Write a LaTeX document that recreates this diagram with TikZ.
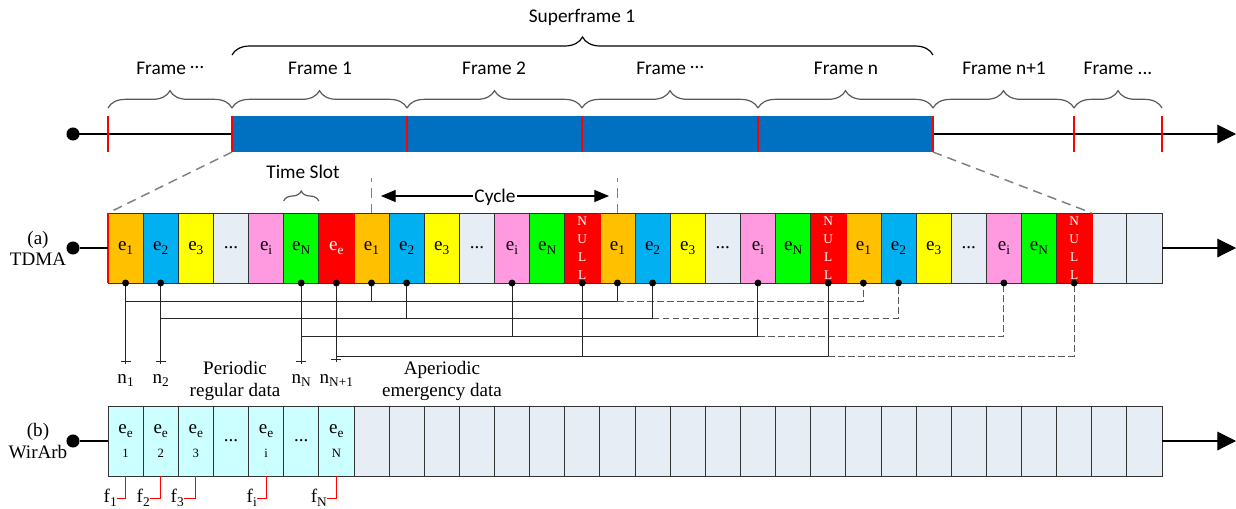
\documentclass[tikz,border=0pt]{standalone}
\usepackage{fontspec}
\setmainfont{Liberation Serif}
\newfontfamily\calfont{Carlito}
\usetikzlibrary{decorations.pathreplacing,arrows.meta,calc}
\definecolor{corange}{HTML}{FFC000}
\definecolor{cblue}{HTML}{00B0F0}
\definecolor{cyellow}{HTML}{FFFF00}
\definecolor{cgray}{HTML}{E7EDF5}
\definecolor{cpink}{HTML}{FF99E0}
\definecolor{cgreen}{HTML}{00FF00}
\definecolor{cred}{HTML}{FF0000}
\definecolor{ccyan}{HTML}{CCFFFF}
\definecolor{barblue}{HTML}{0070C0}
\newcommand\lsub[1]{\raisebox{-0.2em}{\fontsize{10}{10}\selectfont #1}}
\newcommand\mdots{\raisebox{0.3em}{…}}
\newcommand\tcell[3]{\node[cell,#2] (c#1) at ({108+35.133*(#1-0.5)},248) {#3};}
\newcommand\wcell[3]{\node[cell,#2] (w#1) at ({108+35.133*(#1-0.5)},441) {#3};}
\begin{document}
\begin{tikzpicture}[x=0.75pt,y=-0.75pt,
 cell/.style={draw=black!80,line width=0.6pt,minimum width=26.35pt,minimum height=52.5pt,inner sep=0pt,outer sep=0pt,font=\fontsize{14.3}{16}\selectfont},
 nul/.style={fill=cred,text=white,align=center,font=\fontsize{10}{13.5}\selectfont},
 ee/.style={align=center,font=\fontsize{14.3}{18}\selectfont},
 calf/.style={font=\calfont\fontsize{14.5}{17}\selectfont},
 tms/.style={font=\fontsize{14.3}{15.75}\selectfont},
 fbrace/.style={decorate,decoration={brace,amplitude=13pt},draw=black!65,line width=0.9pt},
 conn/.style={draw=black!85,line width=0.75pt},
 dconn/.style={draw=black!65,line width=0.75pt,dash pattern=on 5pt off 2.5pt},
 zoomdash/.style={draw=black!50,line width=1.1pt,dash pattern=on 7pt off 4.5pt},
 cdot/.style={circle,fill=black,inner sep=0pt,minimum size=5.2pt},
 bigdot/.style={circle,fill=black,inner sep=0pt,minimum size=9.8pt},
 bigarrow/.style={-{Triangle[length=14pt,width=14pt]}},
 redtick/.style={draw=cred,line width=1.5pt},
 redconn/.style={draw=cred,line width=0.75pt}
]
\useasboundingbox (0,0) rectangle (1236,508);

% ---------- top timeline ----------
\node[bigdot] (d0) at (73,134) {};
\coordinate (a0) at (1236,134);
\draw[line width=0.8pt,bigarrow] (d0.center) -- (a0);
\node[fill=barblue,minimum width=525.75pt,minimum height=27pt,inner sep=0pt,outer sep=0pt] (bar) at (582.5,134) {};
\foreach \x in {108,232,407,582,758,933,1074,1162} {\draw[redtick] (\x,116) -- (\x,152);}

% frame braces
\draw[fbrace] (108,108) -- (232,108);
\draw[fbrace] (232,108) -- (407,108);
\draw[fbrace] (407,108) -- (582,108);
\draw[fbrace] (582,108) -- (758,108);
\draw[fbrace] (758,108) -- (933,108);
\draw[fbrace] (933,108) -- (1074,108);
\draw[fbrace] (1074,108) -- (1162,108);
\node[calf,anchor=base] (lf0) at (170,74) {Frame \mdots};
\node[calf,anchor=base] (lf1) at (320,74) {Frame 1};
\node[calf,anchor=base] (lf2) at (494,74) {Frame 2};
\node[calf,anchor=base] (lf3) at (670,74) {Frame \mdots};
\node[calf,anchor=base] (lf4) at (846,74) {Frame n};
\node[calf,anchor=base] (lf5) at (1004,74) {Frame n+1};
\node[calf,anchor=base] (lf6) at (1118,74) {Frame ...};

% superframe
\draw[fbrace,draw=black,decoration={brace,amplitude=13.5pt}] (232,55) -- (933,55);
\node[calf,anchor=base] (lsf) at (582,22) {Superframe 1};

% ---------- TDMA row ----------
\tcell{1}{fill=corange}{e\lsub{1}}
\tcell{2}{fill=cblue}{e\lsub{2}}
\tcell{3}{fill=cyellow}{e\lsub{3}}
\tcell{4}{fill=cgray}{...}
\tcell{5}{fill=cpink}{e\lsub{i}}
\tcell{6}{fill=cgreen}{e\lsub{N}}
\tcell{7}{fill=cred,text=white}{e\lsub{e}}
\tcell{8}{fill=corange}{e\lsub{1}}
\tcell{9}{fill=cblue}{e\lsub{2}}
\tcell{10}{fill=cyellow}{e\lsub{3}}
\tcell{11}{fill=cgray}{...}
\tcell{12}{fill=cpink}{e\lsub{i}}
\tcell{13}{fill=cgreen}{e\lsub{N}}
\tcell{14}{nul}{N\\U\\L\\L}
\tcell{15}{fill=corange}{e\lsub{1}}
\tcell{16}{fill=cblue}{e\lsub{2}}
\tcell{17}{fill=cyellow}{e\lsub{3}}
\tcell{18}{fill=cgray}{...}
\tcell{19}{fill=cpink}{e\lsub{i}}
\tcell{20}{fill=cgreen}{e\lsub{N}}
\tcell{21}{nul}{N\\U\\L\\L}
\tcell{22}{fill=corange}{e\lsub{1}}
\tcell{23}{fill=cblue}{e\lsub{2}}
\tcell{24}{fill=cyellow}{e\lsub{3}}
\tcell{25}{fill=cgray}{...}
\tcell{26}{fill=cpink}{e\lsub{i}}
\tcell{27}{fill=cgreen}{e\lsub{N}}
\tcell{28}{nul}{N\\U\\L\\L}
\tcell{29}{fill=cgray}{}
\tcell{30}{fill=cgray}{}

\draw[cred,line width=2.2pt] (c1.north west) -- (c1.south west);
\foreach \k in {7,14,21,28} {\draw[redtick] (c\k.north east) -- (c\k.south east);}

\draw[zoomdash] (bar.south west) -- (c1.north west);
\draw[zoomdash] (bar.south east) -- (c28.north east);

% time slot
\path (c6.north west) ++(0,-12) coordinate (ts1);
\path (c6.north east) ++(0,-12) coordinate (ts2);
\draw[fbrace,decoration={brace,amplitude=7.5pt}] (ts1) -- (ts2);
\node[calf,anchor=base] (lts) at (303,178) {Time Slot};

% cycle
\draw[zoomdash] (c8.north) -- ++(0,-35);
\draw[zoomdash] (c15.north) -- ++(0,-35);
\coordinate (cyl) at (381,196);
\coordinate (cyr) at (609,196);
\draw[line width=0.8pt,{Triangle[length=11pt,width=9pt]}-{Triangle[length=11pt,width=9pt]}] (cyl) -- (cyr);
\node[calf,fill=white,inner sep=1pt,anchor=base] (lcy) at (495,202) {Cycle};

% left/right
\node[bigdot] (da) at (73,248) {};
\draw[line width=0.8pt] (da) -- (c1.west);
\coordinate (ea) at (1236,248);
\draw[line width=0.8pt,bigarrow] (c30.east) -- (ea);
\node[tms,align=center] (la) at (38,248) {(a)\\TDMA};

% ---------- connectors ----------
\coordinate (L1) at (0,301);
\coordinate (L2) at (0,318);
\coordinate (L3) at (0,336);
\coordinate (L4) at (0,356);
\coordinate (NB) at (0,383);
\path (c1.south) ++(0,78) coordinate (t1);
\path (c2.south) ++(0,78) coordinate (t2);
\path (c6.south) ++(0,78) coordinate (tN);
\path (c7.south) ++(0,76) coordinate (tM);
\foreach \t in {t1,t2,tN,tM} {\draw[conn] ([xshift=-3.75pt]\t) -- ([xshift=3.75pt]\t);}
\draw[conn] (c1.south) -- ([yshift=-2pt]t1);
\draw[conn] (c2.south) -- ([yshift=-2pt]t2);
\draw[conn] (c6.south) -- ([yshift=-2pt]tN);
\draw[conn] (c7.south) -- ([yshift=-2pt]tM);
\node[tms,anchor=base] (n1) at (t1 |- NB) {n\lsub{1}};
\node[tms,anchor=base] (n2) at (t2 |- NB) {n\lsub{2}};
\node[tms,anchor=base] (nN) at (tN |- NB) {n\lsub{N}};
\node[tms,anchor=base] (nM) at (tM |- NB) {n\lsub{N+1}};

\draw[conn] (c1.south |- L1) -- (c15.south |- L1) -- (c15.south);
\draw[conn] (c8.south) -- (c8.south |- L1);
\draw[dconn] (c15.south |- L1) -| (c22.south);

\draw[conn] (c2.south |- L2) -- (c16.south |- L2) -- (c16.south);
\draw[conn] (c9.south) -- (c9.south |- L2);
\draw[dconn] (c16.south |- L2) -| (c23.south);

\draw[conn] (c6.south |- L3) -- (c19.south |- L3) -- (c19.south);
\draw[conn] (c12.south) -- (c12.south |- L3);
\draw[dconn] (c19.south |- L3) -| (c26.south);

\draw[conn] (c7.south |- L4) -- (c21.south |- L4) -- (c21.south);
\draw[conn] (c14.south) -- (c14.south |- L4);
\draw[dconn] (c21.south |- L4) -| (c28.south);

\foreach \k in {1,2,6,7,8,9,12,14,15,16,19,21,22,23,26,28} {\node[cdot] at (c\k.south) {};}

\node[tms,align=center,font=\fontsize{14.3}{16.5}\selectfont] (lper) at (235,381) {Periodic\\regular data};
\node[tms,align=center,font=\fontsize{14.3}{16.5}\selectfont] (lape) at (442,381) {Aperiodic\\emergency data};

% ---------- WirArb row ----------
\wcell{1}{fill=ccyan,ee}{e\lsub{e}\\{\fontsize{9.5}{18}\selectfont 1}}
\wcell{2}{fill=ccyan,ee}{e\lsub{e}\\{\fontsize{9.5}{18}\selectfont 2}}
\wcell{3}{fill=ccyan,ee}{e\lsub{e}\\{\fontsize{9.5}{18}\selectfont 3}}
\wcell{4}{fill=ccyan}{...}
\wcell{5}{fill=ccyan,ee}{e\lsub{e}\\{\fontsize{9.5}{18}\selectfont i}}
\wcell{6}{fill=ccyan}{...}
\wcell{7}{fill=ccyan,ee}{e\lsub{e}\\{\fontsize{9.5}{18}\selectfont N}}
\foreach \k in {8,...,30} {\wcell{\k}{fill=cgray}{}}

\node[bigdot] (db) at (73,441) {};
\draw[line width=0.8pt] (db) -- (w1.west);
\coordinate (eb) at (1236,441);
\draw[line width=0.8pt,bigarrow] (w30.east) -- (eb);
\node[tms,align=center,font=\fontsize{14.3}{16.5}\selectfont] (lb) at (38,441) {(b)\\WirArb};

\node[tms,anchor=east,inner sep=0pt] (f1) at (117,498) {f\lsub{1}};
\node[tms,anchor=east,inner sep=0pt] (f2) at (150,498) {f\lsub{2}};
\node[tms,anchor=east,inner sep=0pt] (f3) at (184,498) {f\lsub{3}};
\node[tms,anchor=east,inner sep=0pt] (fi) at (257,498) {f\lsub{i}};
\node[tms,anchor=east,inner sep=0pt] (fN) at (327,498) {f\lsub{N}};
\draw[redconn] (w1.south) |- (f1.east);
\draw[redconn] (w2.south) |- (f2.east);
\draw[redconn] (w3.south) |- (f3.east);
\draw[redconn] (w5.south) |- (fi.east);
\draw[redconn] (w7.south) |- (fN.east);
\end{tikzpicture}
\end{document}
